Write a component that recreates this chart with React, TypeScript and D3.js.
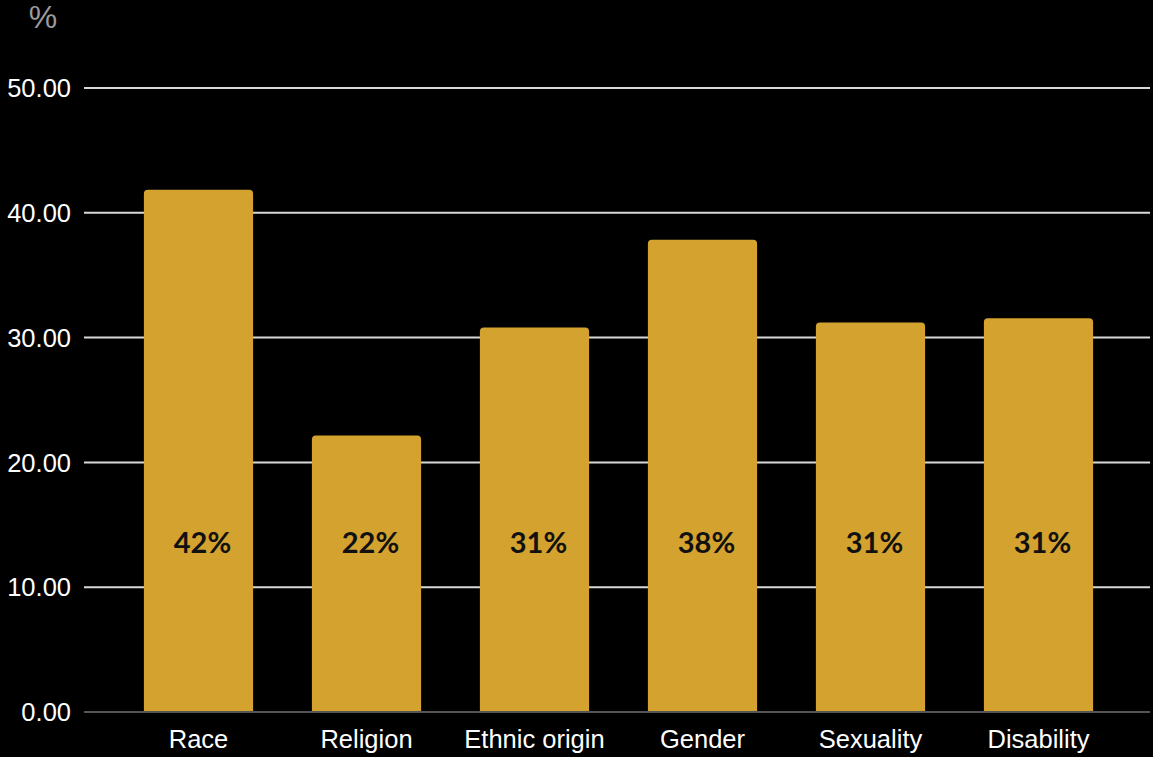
import React from "react";
import * as d3 from "d3";

const categories = ["Race", "Religion", "Ethnic origin", "Gender", "Sexuality", "Disability"];
const values = [41.85, 22.15, 30.8, 37.85, 31.2, 31.55];
const barLabels = ["42%", "22%", "31%", "38%", "31%", "31%"];
const yTicks = [0, 10, 20, 30, 40, 50];

const W = 1153;
const H = 757;

export default function App() {
  const x = d3.scaleBand<string>().domain(categories).range([114.5, 1122.5]).paddingInner(0.35).paddingOuter(0.175);
  const y = d3.scaleLinear().domain([0, 50]).range([712, 88]);
  const r = 4;
  const barPath = (x0: number, w: number, y0: number, y1: number) => {
    const p = d3.path();
    p.moveTo(x0, y1);
    p.lineTo(x0, y0 + r);
    p.quadraticCurveTo(x0, y0, x0 + r, y0);
    p.lineTo(x0 + w - r, y0);
    p.quadraticCurveTo(x0 + w, y0, x0 + w, y0 + r);
    p.lineTo(x0 + w, y1);
    p.closePath();
    return p.toString();
  };
  return (
    <svg width={W} height={H} style={{ position: "fixed", left: 0, top: 0, background: "#000" }}>
      <rect x={0} y={0} width={W} height={H} fill="#000" />
      <text x={43} y={28} fill="#9a9a9a" fontFamily="Liberation Sans, Arial, sans-serif" fontSize={32} textAnchor="middle">%</text>
      {yTicks.map((t) => (
        <g key={t}>
          <line x1={84} x2={1150} y1={y(t)} y2={y(t)} stroke={t === 0 ? "#555" : "#d9d9d9"} strokeWidth={2} />
          <text x={71} y={y(t)} dy="0.36em" fill="#fff" fontFamily="Liberation Sans, Arial, sans-serif" fontSize={25.5} textAnchor="end">
            {t.toFixed(2)}
          </text>
        </g>
      ))}
      {categories.map((c, i) => {
        const bx = x(c)!;
        const bw = x.bandwidth();
        return (
          <g key={c}>
            <path d={barPath(bx, bw, y(values[i]), y(0) - 1)} fill="#D4A22F" />
            <text x={bx + bw / 2} y={739} dy="0.36em" fill="#fff" fontFamily="Liberation Sans, Arial, sans-serif" fontSize={25.5} textAnchor="middle">
              {c}
            </text>
            <text x={bx + bw / 2 + 4} y={y(13.6)} dy="0.36em" fill="#111" fontFamily="Lato, 'Open Sans', sans-serif" fontWeight="bold" fontSize={29} textAnchor="middle">
              {barLabels[i]}
            </text>
          </g>
        );
      })}
    </svg>
  );
}
